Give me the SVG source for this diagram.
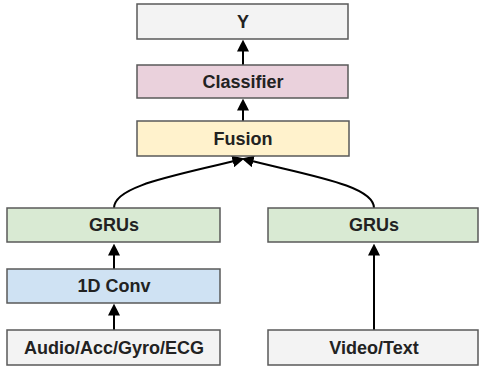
<svg xmlns="http://www.w3.org/2000/svg" width="479" height="371" viewBox="0 0 479 371">
<defs>
<marker id="ah" viewBox="0 0 10 10" refX="8" refY="5" markerWidth="6" markerHeight="6" orient="auto" markerUnits="strokeWidth">
<path d="M0,0 L10,5 L0,10 Z" fill="#000"/>
</marker>
<style>
.box{stroke:#595959;stroke-width:1.5}
.t{font-family:"Liberation Sans",Arial,sans-serif;font-weight:bold;font-size:18px;fill:#222;text-anchor:middle;dominant-baseline:central}
.c{fill:none;stroke:#000;stroke-width:2;marker-end:url(#ah)}
</style>
</defs>
<rect width="479" height="371" fill="#fff"/>
<g id="connectors">
<path class="c" d="M243,65 L243,42"/>
<path class="c" d="M243,121 L243,101"/>
<path class="c" d="M114,208 C114,185 180,175 242,159"/>
<path class="c" d="M374,208 C374,185 306,175 244,159"/>
<path class="c" d="M114,269 L114,246"/>
<path class="c" d="M114,330 L114,306"/>
<path class="c" d="M374,330 L374,246"/>
</g>
<g id="y"><rect class="box" x="137" y="4" width="211" height="35" fill="#f3f3f3"/><text class="t" x="243" y="21.5">Y</text></g>
<g id="classifier"><rect class="box" x="137" y="65" width="211" height="33" fill="#ead1dc"/><text class="t" x="243" y="81.5">Classifier</text></g>
<g id="fusion"><rect class="box" x="137" y="121" width="212" height="35" fill="#fff2cc"/><text class="t" x="243" y="138.5">Fusion</text></g>
<g id="grus-left"><rect class="box" x="7" y="208" width="213" height="34" fill="#d9ead3"/><text class="t" x="114" y="225">GRUs</text></g>
<g id="grus-right"><rect class="box" x="268" y="208" width="210" height="34" fill="#d9ead3"/><text class="t" x="374" y="225">GRUs</text></g>
<g id="conv"><rect class="box" x="7" y="269" width="213" height="34" fill="#cfe2f3"/><text class="t" x="114" y="286">1D Conv</text></g>
<g id="audio"><rect class="box" x="7" y="330" width="213" height="35" fill="#f3f3f3"/><text class="t" x="114" y="347.5">Audio/Acc/Gyro/ECG</text></g>
<g id="video"><rect class="box" x="268" y="330" width="210" height="35" fill="#f3f3f3"/><text class="t" x="374" y="347.5">Video/Text</text></g>
</svg>
